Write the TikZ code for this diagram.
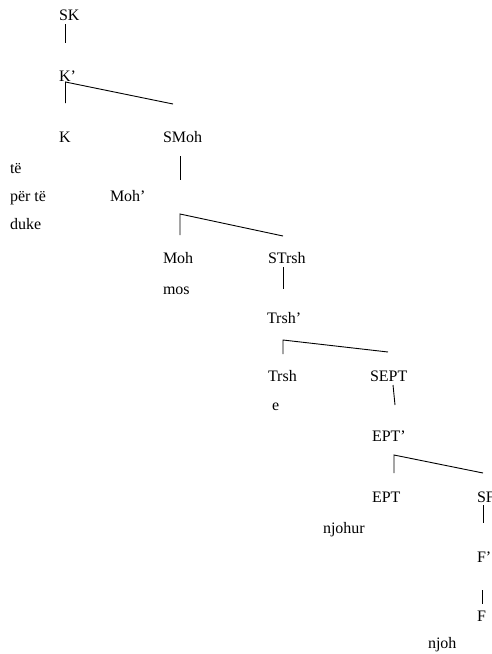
\documentclass[tikz,border=0pt]{standalone}
\usepackage{fontspec}
\setmainfont{Liberation Serif}
\begin{document}
\begin{tikzpicture}[x=1pt,y=-1pt,
  lbl/.style={anchor=base west,inner sep=0pt,outer sep=0pt,font=\fontsize{16}{19}\selectfont},
  edge/.style={line width=0.9pt,line cap=butt}]
\useasboundingbox (0,0) rectangle (491,654);
\clip (0,0) rectangle (491,654);
% labels
\node[lbl] (SK) at (59,20) {SK};
\node[lbl] (Kp) at (59,81) {K’};
\node[lbl] (K) at (59,142) {K};
\node[lbl] (SMoh) at (163,142) {SMoh};
\node[lbl] (te) at (10,173) {të};
\node[lbl] (perte) at (10,201) {për të};
\node[lbl] (Mohp) at (110,201) {Moh’};
\node[lbl] (duke) at (10,229) {duke};
\node[lbl] (Moh) at (163,263) {Moh};
\node[lbl] (STrsh) at (268,263) {STrsh};
\node[lbl] (mos) at (163,294) {mos};
\node[lbl] (Trshp) at (267,323) {Trsh’};
\node[lbl] (Trsh) at (268,381) {Trsh};
\node[lbl] (SEPT) at (370,381) {SEPT};
\node[lbl] (e) at (272,410) {e};
\node[lbl] (EPTp) at (372,441) {EPT’};
\node[lbl] (EPT) at (372,502) {EPT};
\node[lbl] (SF) at (477,502) {SF};
\node[lbl] (njohur) at (323,533) {njohur};
\node[lbl] (Fp) at (477,562) {F’};
\node[lbl] (F) at (477,621) {F};
\node[lbl] (njoh) at (428,648) {njoh};
% line end points
\coordinate (a1) at (65.5,24); \coordinate (a2) at (65.5,43);
\coordinate (b0) at (65.5,82); \coordinate (b1) at (65.5,103); \coordinate (b2) at (173,104);
\coordinate (c1) at (180,156); \coordinate (c2) at (180,180);
\coordinate (d0) at (180,214); \coordinate (d1) at (180,235); \coordinate (d2) at (283,236);
\coordinate (e1) at (283,267); \coordinate (e2) at (283,289);
\coordinate (f0) at (283,340); \coordinate (f1) at (283,354); \coordinate (f2) at (388,352);
\coordinate (g1) at (393,385); \coordinate (g2) at (395,405);
\coordinate (h0) at (394,455); \coordinate (h1) at (394,473); \coordinate (h2) at (483,473);
\coordinate (i1) at (483,505); \coordinate (i2) at (483,523);
\coordinate (j1) at (482,590); \coordinate (j2) at (482,604);
% connectors
\draw[edge] (a1) -- (a2);
\draw[edge] (b1) -- (b0) -- (b2);
\draw[edge] (c1) -- (c2);
\draw[edge] (d1) -- (d0) -- (d2);
\draw[edge] (e1) -- (e2);
\draw[edge] (f1) -- (f0) -- (f2);
\draw[edge] (g1) -- (g2);
\draw[edge] (h1) -- (h0) -- (h2);
\draw[edge] (i1) -- (i2);
\draw[edge] (j1) -- (j2);
\end{tikzpicture}
\end{document}
